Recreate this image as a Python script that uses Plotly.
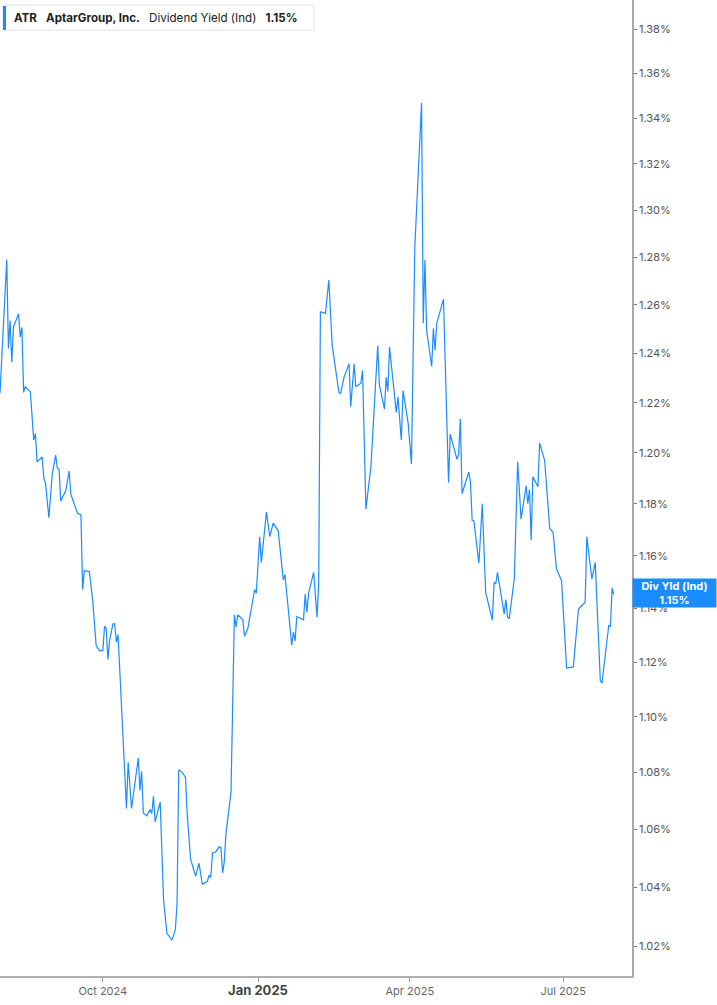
import plotly.graph_objects as go

dates = [
"2024-08-01","2024-08-05","2024-08-06","2024-08-07","2024-08-08","2024-08-09","2024-08-12","2024-08-13","2024-08-14","2024-08-15","2024-08-16","2024-08-19","2024-08-21","2024-08-22","2024-08-23","2024-08-26","2024-08-27","2024-08-28","2024-08-30","2024-09-01","2024-09-03","2024-09-04","2024-09-05","2024-09-06","2024-09-09","2024-09-11","2024-09-12","2024-09-16","2024-09-18","2024-09-19","2024-09-20","2024-09-23","2024-09-25","2024-09-27",
"2024-09-29","2024-10-01","2024-10-02","2024-10-03","2024-10-04","2024-10-05","2024-10-07","2024-10-08","2024-10-09","2024-10-10","2024-10-15","2024-10-16","2024-10-18","2024-10-22","2024-10-23","2024-10-24","2024-10-25","2024-10-27","2024-10-29","2024-10-30","2024-10-31","2024-11-01","2024-11-04","2024-11-06","2024-11-08","2024-11-11","2024-11-13","2024-11-14","2024-11-15","2024-11-17","2024-11-19","2024-11-20","2024-11-22","2024-11-25","2024-11-27","2024-11-29","2024-12-02","2024-12-03","2024-12-04","2024-12-05","2024-12-07","2024-12-09","2024-12-10","2024-12-11","2024-12-12","2024-12-13","2024-12-16",
"2024-12-18","2024-12-19","2024-12-20","2024-12-23","2024-12-24","2024-12-26","2024-12-30","2024-12-31","2025-01-02","2025-01-03","2025-01-06","2025-01-08","2025-01-10","2025-01-13","2025-01-16","2025-01-17","2025-01-21","2025-01-22","2025-01-23","2025-01-24","2025-01-28","2025-01-29","2025-01-30","2025-01-31","2025-02-03","2025-02-05","2025-02-06","2025-02-07","2025-02-10","2025-02-12","2025-02-14","2025-02-18","2025-02-19","2025-02-21","2025-02-24","2025-02-25","2025-02-27","2025-02-28","2025-03-03","2025-03-04","2025-03-06","2025-03-09","2025-03-13","2025-03-14","2025-03-17","2025-03-18","2025-03-19","2025-03-20","2025-03-24","2025-03-25","2025-03-27","2025-03-28","2025-03-31","2025-04-02","2025-04-04","2025-04-08","2025-04-09","2025-04-10","2025-04-11","2025-04-14","2025-04-15","2025-04-16","2025-04-17","2025-04-21","2025-04-24","2025-04-25","2025-04-27","2025-04-29","2025-04-30","2025-05-01","2025-05-02","2025-05-04","2025-05-06","2025-05-07","2025-05-08","2025-05-09","2025-05-12","2025-05-14","2025-05-16","2025-05-20","2025-05-21","2025-05-22","2025-05-23","2025-05-27","2025-05-28","2025-05-29","2025-05-30","2025-06-02","2025-06-04","2025-06-06","2025-06-09","2025-06-10","2025-06-11","2025-06-12","2025-06-13","2025-06-16","2025-06-17","2025-06-20","2025-06-23","2025-06-25","2025-06-27","2025-06-30","2025-07-03","2025-07-07","2025-07-08","2025-07-10","2025-07-11","2025-07-14","2025-07-15","2025-07-18","2025-07-20","2025-07-23","2025-07-24","2025-07-28","2025-07-29","2025-07-30","2025-07-31"]

div_yield = [
1.224,1.279,1.242,1.2535,1.2364,1.251,1.2563,1.2468,1.2507,1.2242,1.2265,1.2245,1.2051,1.2077,1.1965,1.1984,1.1901,1.188,1.1747,1.1918,1.1992,1.194,1.1936,1.1812,1.1851,1.1929,1.1838,1.1763,1.1758,1.1471,1.1543,1.154,1.143,1.1263,
1.1242,1.1244,1.1334,1.1325,1.121,1.1281,1.1343,1.1343,1.1275,1.1303,1.0673,1.0837,1.0673,1.0852,1.0737,1.0805,1.0657,1.0647,1.0669,1.0655,1.0716,1.0626,1.0696,1.0356,1.0243,1.022,1.0256,1.0345,1.081,1.0801,1.0784,1.0655,1.0496,1.0438,1.0482,1.041,1.042,1.0441,1.0433,1.0518,1.0522,1.0539,1.0537,1.0449,1.0487,1.0585,1.0731,
1.1377,1.1331,1.1377,1.1358,1.1296,1.1326,1.1472,1.1458,1.1673,1.1575,1.1769,1.1674,1.1726,1.1696,1.1508,1.1528,1.1263,1.1312,1.1279,1.137,1.1358,1.1455,1.1386,1.1458,1.1537,1.1368,1.1494,1.2572,1.2565,1.2704,1.2433,1.2242,1.2238,1.2303,1.2358,1.2184,1.2358,1.2265,1.2279,1.2331,1.178,1.1949,1.2433,1.2272,1.2175,1.2303,1.2246,1.2426,1.2161,1.2224,1.2051,1.2249,1.2121,1.1956,1.2844,1.3468,1.2524,1.2788,1.2496,1.2347,1.2503,1.2415,1.2524,1.2624,1.1884,1.2075,1.2028,1.1975,1.1995,1.2135,1.184,1.188,1.1925,1.1886,1.1737,1.1735,1.1572,1.1801,1.1462,1.1356,1.1499,1.1493,1.1537,1.138,1.1434,1.1368,1.1362,1.1512,1.1965,1.1741,1.1871,1.1801,1.1856,1.166,1.1906,1.1867,1.2039,1.1971,1.1705,1.169,1.155,1.1506,1.1179,1.1183,1.1263,1.1395,1.1405,1.1424,1.1673,1.1512,1.1575,1.1133,1.1123,1.1337,1.1333,1.1478,1.1453]

y_ticks = [1.02, 1.04, 1.06, 1.08, 1.10, 1.12, 1.14, 1.16, 1.18, 1.20, 1.22, 1.24, 1.26, 1.28, 1.30, 1.32, 1.34, 1.36, 1.38]
y_tick_labels = [f"{v:.2f}%" for v in y_ticks]
x_ticks = ["2024-10-01", "2025-01-01", "2025-04-01", "2025-07-01"]
x_tick_labels = ["Oct 2024", "<b><span style='font-size:13px;color:#444'>Jan 2025</span></b>", "Apr 2025", "Jul 2025"]

ticker = "ATR"
company = "AptarGroup, Inc."
metric = "Dividend Yield (Ind)"
last_label = "1.15%"

BLUE = "#1a8cff"
FONT = "Inter"

fig = go.Figure()
fig.add_trace(go.Scatter(x=dates, y=div_yield, mode="lines",
                         line=dict(color=BLUE, width=1.2), hoverinfo="skip",
                         showlegend=False))

W, H = 717, 1005
PL, PR, PT, PB = 0, 85, 0, 29
pw, ph = W - PL - PR, H - PT - PB

def px(x):
    return (x - PL) / pw

def py(y):
    return 1 - (y - PT) / ph

gap = "\u2002\u00a0"

fig.update_layout(
    width=W, height=H,
    margin=dict(l=PL, r=PR, t=PT, b=PB, pad=0),
    paper_bgcolor="white", plot_bgcolor="white",
    font=dict(family=FONT, color="#555", size=11),
    xaxis=dict(
        type="date", range=["2024-08-01", "2025-08-10 19:00"],
        tickvals=x_ticks, ticktext=x_tick_labels,
        showgrid=False, zeroline=False,
        showline=True, linecolor="#b0b0b0", linewidth=2,
        ticks="outside", ticklen=4, tickcolor="#999", tickwidth=1,
        tickfont=dict(size=11, color="#666", family=FONT),
    ),
    yaxis=dict(
        type="log", side="right",
        range=[0.004305, 0.144031],
        tickvals=y_ticks, ticktext=y_tick_labels,
        showgrid=False, zeroline=False,
        showline=True, linecolor="#a8a8a8", linewidth=1.5,
        ticks="outside", ticklen=3, tickcolor="#777", tickwidth=1,
        tickfont=dict(size=11, color="#555", family=FONT),
    ),
    shapes=[
        dict(type="rect", xref="paper", yref="paper",
             x0=px(3), x1=px(314), y0=py(30), y1=py(5),
             line=dict(color="#e3e3e3", width=1), fillcolor="white", layer="above"),
        dict(type="rect", xref="paper", yref="paper",
             x0=px(3), x1=px(6), y0=py(30), y1=py(6),
             line=dict(width=0), fillcolor=BLUE, layer="above"),
    ],
    annotations=[
        dict(xref="paper", yref="paper", x=px(12), y=py(17.5),
             xanchor="left", yanchor="middle", showarrow=False,
             text=f"<b>{ticker}</b>{gap}<b>{company}</b>{gap}{metric}{gap}<b>{last_label}</b>",
             font=dict(family=FONT, size=11.6, color="#222")),
        dict(xref="paper", yref="paper", x=px(632), y=py(593),
             xanchor="left", yanchor="middle", showarrow=False,
             width=81, height=26, bgcolor=BLUE, borderpad=1, align="center",
             text=f"<b>Div Yld (Ind)</b><br><b>{last_label}</b>",
             font=dict(family=FONT, size=11, color="white")),
    ],
)

fig.write_html("out.html", config={"displayModeBar": False},
               post_script="document.body.style.margin='0px';document.documentElement.style.overflow='hidden';")
